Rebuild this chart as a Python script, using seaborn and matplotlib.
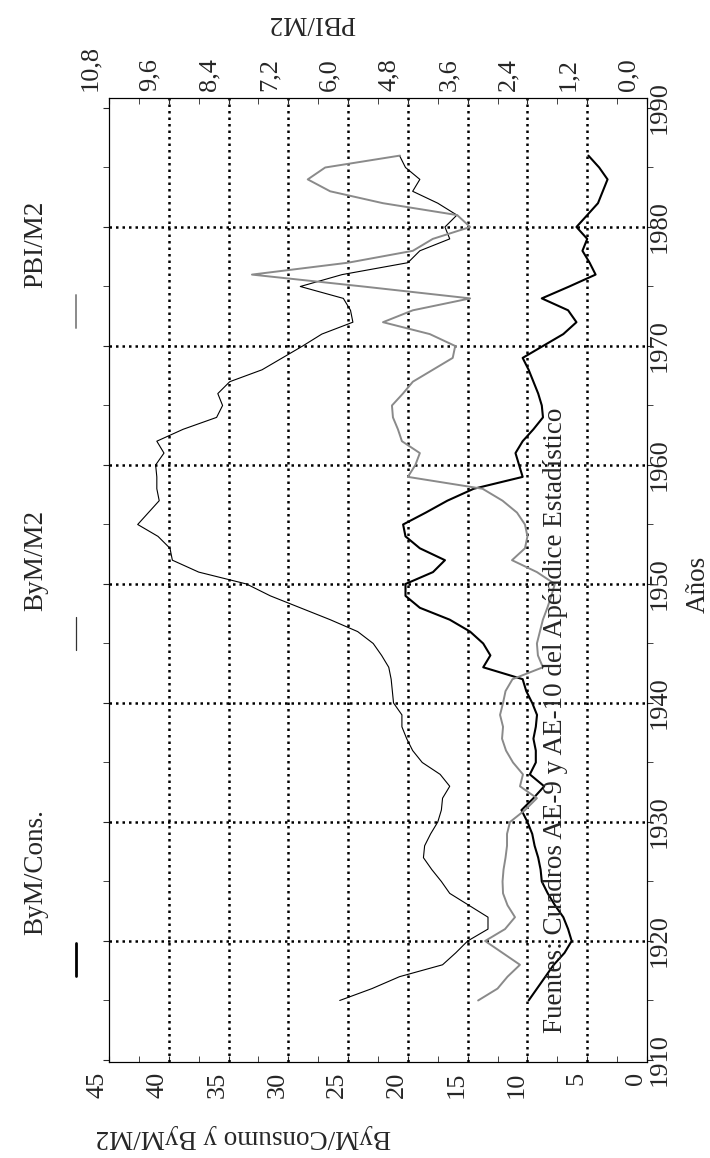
import pandas as pd
import matplotlib.pyplot as plt
import seaborn as sns
from matplotlib.lines import Line2D
from matplotlib.ticker import MultipleLocator
from matplotlib.transforms import ScaledTranslation

# Annual series 1915-1986
years = list(range(1915, 1987))

# thick black line, left scale
bym_cons = [9.9, 9.2, 8.5, 7.8, 6.9, 6.3, 6.6, 7.0, 7.7, 8.3,
            8.8, 8.9, 9.1, 9.4, 9.6, 10.0, 10.5, 9.5, 8.6, 9.8,
            9.3, 9.3, 9.5, 9.3, 9.2, 9.6, 10.1, 10.4, 13.7, 13.1,
            13.7, 14.8, 16.5, 19.0, 20.2, 20.2, 17.9, 16.9, 19.0, 20.2,
            20.4, 18.5, 16.7, 14.5, 10.4, 10.7, 11.0, 10.4, 9.5, 8.7,
            8.8, 9.1, 9.5, 9.9, 10.4, 8.7, 7.0, 5.9, 6.6, 8.8,
            6.5, 4.3, 4.8, 5.4, 5.0, 5.9, 5.0, 4.1, 3.7, 3.3,
            4.0, 4.9]

# thin black line, left scale
bym_m2 = [25.7, 23.0, 20.7, 17.1, 16.0, 15.0, 13.3, 13.3, 14.9, 16.5,
          17.2, 18.0, 18.7, 18.6, 18.1, 17.5, 17.2, 17.1, 16.5, 17.3,
          18.8, 19.6, 20.1, 20.5, 20.5, 21.2, 21.3, 21.4, 21.6, 22.2,
          22.9, 24.2, 26.5, 29.0, 31.5, 33.5, 37.5, 39.7, 39.9, 40.9,
          42.6, 41.7, 40.8, 41.0, 41.0, 41.1, 40.4, 41.0, 38.8, 36.0,
          35.5, 35.9, 34.9, 32.2, 30.5, 28.8, 27.2, 24.6, 24.8, 25.4,
          29.0, 25.5, 20.0, 19.0, 16.5, 16.9, 15.9, 17.5, 19.6, 19.0,
          20.2, 20.7]

# gray line, right (top) scale
pbi_m2 = [3.39, 3.00, 2.80, 2.55, 2.90, 3.25, 2.85, 2.65, 2.80, 2.89,
          2.90, 2.88, 2.84, 2.81, 2.81, 2.75, 2.45, 2.21, 2.55, 2.49,
          2.69, 2.83, 2.91, 2.89, 2.95, 2.89, 2.84, 2.70, 2.09, 2.19,
          2.21, 2.15, 2.09, 2.00, 1.92, 1.85, 2.21, 2.71, 2.45, 2.40,
          2.45, 2.61, 2.90, 3.30, 4.80, 4.65, 4.56, 4.92, 5.00, 5.10,
          5.12, 4.90, 4.70, 4.30, 3.90, 3.85, 4.36, 5.30, 4.70, 3.55,
          5.70, 7.93, 6.00, 4.70, 4.30, 3.55, 3.81, 5.30, 6.36, 6.81,
          6.46, 4.96]

val_ticks = [0, 5, 10, 15, 20, 25, 30, 35, 40, 45]
pbi_ticks = [0.0, 1.2, 2.4, 3.6, 4.8, 6.0, 7.2, 8.4, 9.6, 10.8]
year_ticks = [1910, 1920, 1930, 1940, 1950, 1960, 1970, 1980, 1990]
year_range = (1909.83, 1990.84)

df = pd.DataFrame({"year": years, "bym_cons": bym_cons,
                   "bym_m2": bym_m2, "pbi_m2": pbi_m2})

sns.set_style("ticks")
plt.rcParams["font.family"] = ["Liberation Serif", "DejaVu Serif"]
plt.rcParams["axes.linewidth"] = 0.8
plt.rcParams["axes.edgecolor"] = "black"

W, H = 710, 1158
L, R, T, B = 109, 647, 98, 1062
GRAY = "#8a8a8a"
FS = 19      # tick labels
FT = 19.5    # titles and notes


def fx(x, y):
    return x / W, 1 - y / H


fig = plt.figure(figsize=(W / 100, H / 100), dpi=100)
ax = fig.add_axes([L / W, 1 - B / H, (R - L) / W, (B - T) / H])

# dotted grid at the inner ticks
for v in val_ticks[1:-1]:
    ax.axvline(v, color="black", lw=1.8, ls=(0, (1, 1.6)), zorder=1)
for yv in year_ticks[1:-1]:
    ax.axhline(yv, color="black", lw=1.8, ls=(0, (1, 1.6)), zorder=1)

sns.lineplot(data=df, x="bym_m2", y="year", orient="y", sort=False,
             ax=ax, color="black", lw=0.8, zorder=3)
sns.lineplot(data=df, x="bym_cons", y="year", orient="y", sort=False,
             ax=ax, color="black", lw=1.5, zorder=3)
ax.set_xlim(45, 0)
ax.set_ylim(*year_range)
ax.set_xlabel("")
ax.set_ylabel("")

ax.set_xticks(val_ticks)
ax.set_xticklabels([str(v) for v in val_ticks], rotation=90, ha="right")
ax.xaxis.set_minor_locator(MultipleLocator(2.5))
ax.tick_params(axis="x", which="both", direction="in", length=4,
               top=False, bottom=True, labelsize=FS, pad=7)

ax.set_yticks(year_ticks)
ax.set_yticklabels([str(y) for y in year_ticks], rotation=90,
                   va="center", ha="left")
ax.yaxis.set_minor_locator(MultipleLocator(5))
ax.tick_params(axis="y", which="both", direction="out", length=4,
               left=True, right=True, labelleft=False, labelright=True,
               labelsize=FS, pad=-3)

ax2 = ax.twiny()
sns.lineplot(data=df, x="pbi_m2", y="year", orient="y", sort=False,
             ax=ax2, color=GRAY, lw=1.4)
ax2.set_xlim(10.8, 0)
ax2.set_ylim(*year_range)
ax2.set_xlabel("")
ax2.set_ylabel("")
ax2.set_xticks(pbi_ticks)
ax2.set_xticklabels([f"{v:.1f}".replace(".", ",") for v in pbi_ticks],
                    rotation=90, ha="right")
ax2.xaxis.set_minor_locator(MultipleLocator(0.6))
ax2.tick_params(axis="x", which="both", direction="in", length=4,
                labelsize=FS, pad=5)
shift = ScaledTranslation(-0.08, 0, fig.dpi_scale_trans)
for lbl in ax2.get_xticklabels():
    lbl.set_transform(lbl.get_transform() + shift)

# axis titles
fig.text(*fx(312, 22), "PBI/M2", rotation=180, ha="center", va="center",
         fontsize=FT)
fig.text(*fx(243, 1136), "ByM/Consumo y ByM/M2", rotation=180,
         ha="center", va="center", fontsize=FT)
fig.text(*fx(698, 584), "Años", rotation=90, ha="center", va="center",
         fontsize=FT)

# source note
fig.text(*fx(556, 1033),
         "Fuentes: Cuadros AE-9 y AE-10 del Apéndice Estadístico",
         rotation=90, ha="center", va="bottom", fontsize=FT)

# legend, drawn along the left margin
legend = [("ByM/Cons.", "black", 2.0, 935, 943),
          ("ByM/M2", "#333333", 0.9, 611, 617),
          ("PBI/M2", GRAY, 1.4, 288, 295)]
for label, col, lw, text_bottom, line_top in legend:
    fig.text(*fx(36, text_bottom), label, rotation=90, ha="center",
             va="bottom", fontsize=FT)
    x0, y0 = fx(76, line_top)
    x1, y1 = fx(76, line_top + 33)
    fig.add_artist(Line2D([x0, x1], [y0, y1], color=col, lw=lw,
                          transform=fig.transFigure))

fig.savefig("out.png", dpi=100)
